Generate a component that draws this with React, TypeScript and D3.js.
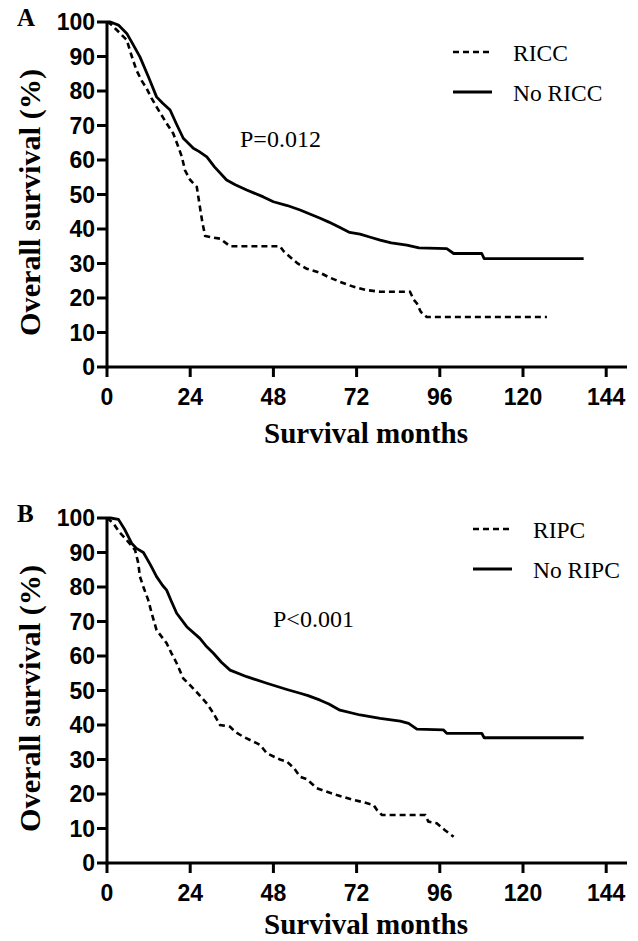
import React, { useEffect, useRef } from 'react';
import * as d3 from 'd3';

// months / overall survival (%)
const MONTH_TICKS = [0, 24, 48, 72, 96, 120, 144];
const SURV_TICKS = [0, 10, 20, 30, 40, 50, 60, 70, 80, 90, 100];

const riccA: [number, number][] = [
  [0, 100], [1, 99.5], [2.3, 98.2], [4, 96.5], [5.7, 94.8], [7, 90.5], [8.5, 86], [10, 83],
  [11.4, 80.8], [12.8, 78], [14.3, 75.4], [17.2, 70.6], [19.1, 67.7], [20.5, 64], [21.6, 60.9],
  [22.5, 57], [24, 54.2], [25.9, 52.2], [26.8, 46.4], [27.5, 42], [28.3, 38], [30.7, 37.5],
  [32.6, 37.2], [35.5, 35], [49.9, 35], [51, 33.5], [52.8, 31.9], [55, 30], [57.6, 28.5],
  [61.5, 27.3], [64, 26], [67.2, 24.7], [71, 23.3], [74.9, 22.3], [78.8, 21.8], [87.4, 21.8],
  [88.5, 19.5], [89.4, 18.4], [90.5, 16], [92.2, 14.5], [126.9, 14.5],
];

const noRiccA: [number, number][] = [
  [0, 100], [1, 100], [3.3, 99.1], [5.7, 96.7], [7.5, 93.5], [9.5, 89.9], [12, 84], [14.3, 78.3],
  [16, 76.5], [18.2, 74.5], [20, 70.5], [22, 66.3], [24.9, 63.4], [26.5, 62.5], [28.8, 60.9],
  [31, 58], [34.5, 54.2], [37, 52.8], [40.3, 51.3], [45.1, 49.3], [48, 47.9], [52, 46.8],
  [55.7, 45.5], [61.5, 43.1], [64, 42], [67.2, 40.4], [70, 39], [73, 38.5], [76, 37.6],
  [78.8, 36.8], [82, 36], [86.5, 35.3], [90, 34.5], [98, 34.3], [100, 32.9], [108.1, 32.9],
  [108.8, 31.4], [137.5, 31.4],
];

const ripcB: [number, number][] = [
  [0, 100], [1.8, 98.5], [3.5, 96], [5.7, 93.6], [8.1, 90.7], [9, 87], [9.5, 83], [10.5, 80],
  [11.9, 76.2], [13, 72], [14.3, 67.5], [17.2, 63.7], [18.5, 61], [20.1, 57.9], [22, 53.5],
  [24.5, 51], [26.8, 48.5], [29, 46], [30.7, 43.4], [32.6, 40], [35.5, 39.5], [37, 38],
  [39.3, 36.6], [42, 35.3], [44.2, 34.2], [46.1, 31.8], [49.9, 30], [51.9, 29.4], [54, 27.4],
  [55.7, 25], [57.6, 24.3], [60.5, 21.7], [63, 20.8], [66.3, 19.7], [71.1, 18.3], [74, 17.6],
  [76.9, 16.8], [78, 15.2], [79.3, 13.9], [91.8, 13.9], [92.7, 12], [95.1, 11.5], [97.5, 9.5],
  [100, 7.6],
];

const noRipcB: [number, number][] = [
  [0, 100], [1, 100], [3.3, 99.6], [5.2, 96.5], [7.1, 92.7], [8.5, 91.2], [10.5, 90], [12.5, 86.5],
  [14.3, 83], [16, 80.5], [17.2, 79.1], [18.5, 76], [20.1, 72.4], [23, 68.5], [26.8, 65.1],
  [28.5, 63], [30.7, 60.8], [33, 58.2], [35.5, 55.9], [40.3, 54], [46.1, 52.1], [51.9, 50.3],
  [55.7, 49.2], [58, 48.5], [61.5, 47.2], [64, 46.1], [67.2, 44.3], [73, 42.9], [78.8, 41.9],
  [84.6, 41.1], [87, 40.5], [89.4, 38.8], [97, 38.6], [98, 37.6], [108.1, 37.6], [108.8, 36.3],
  [137.5, 36.3],
];

const panels = [
  {
    label: 'A', top: 22, bottom: 367, pText: 'P=0.012', pX: 240, pY: 147,
    dashed: riccA, solid: noRiccA, dashedName: 'RICC', solidName: 'No RICC',
    legX: 453, legY: 52, titleY: 443,
  },
  {
    label: 'B', top: 518, bottom: 863, pText: 'P<0.001', pX: 273, pY: 627,
    dashed: ripcB, solid: noRipcB, dashedName: 'RIPC', solidName: 'No RIPC',
    legX: 473, legY: 529, titleY: 934,
  },
];

const W = 638;
const H = 941;
const SANS = '"Liberation Sans", Arial, sans-serif';
const SERIF = '"Liberation Serif", "Times New Roman", serif';

export default function App() {
  const ref = useRef<SVGSVGElement>(null);

  useEffect(() => {
    const svg = d3.select(ref.current);
    svg.selectAll('*').remove();

    const x = d3.scaleLinear().domain([0, 150]).range([107, 627]);

    panels.forEach(p => {
      const y = d3.scaleLinear().domain([0, 100]).range([p.bottom, p.top]);
      const g = svg.append('g');

      // axes
      g.append('line')
        .attr('x1', x(0)).attr('x2', x(150))
        .attr('y1', y(0)).attr('y2', y(0))
        .attr('stroke', '#000').attr('stroke-width', 3);
      g.append('line')
        .attr('x1', x(0)).attr('x2', x(0))
        .attr('y1', y(0) + 1.5).attr('y2', y(100) - 1)
        .attr('stroke', '#000').attr('stroke-width', 3);

      g.selectAll('.ytick')
        .data(SURV_TICKS)
        .enter()
        .append('line')
        .attr('x1', x(0) - 10).attr('x2', x(0))
        .attr('y1', d => y(d)).attr('y2', d => y(d))
        .attr('stroke', '#000').attr('stroke-width', 3);

      g.selectAll('.ylab')
        .data(SURV_TICKS)
        .enter()
        .append('text')
        .attr('x', x(0) - 12)
        .attr('y', d => y(d))
        .attr('dy', '0.36em')
        .attr('text-anchor', 'end')
        .style('font-family', SANS)
        .style('font-weight', 'bold')
        .style('font-size', '23px')
        .text(d => d);

      g.selectAll('.xtick')
        .data(MONTH_TICKS)
        .enter()
        .append('line')
        .attr('x1', d => x(d)).attr('x2', d => x(d))
        .attr('y1', y(0)).attr('y2', y(0) + 10)
        .attr('stroke', '#000').attr('stroke-width', 3);

      g.selectAll('.xlab')
        .data(MONTH_TICKS)
        .enter()
        .append('text')
        .attr('x', d => x(d))
        .attr('y', y(0) + 38)
        .attr('text-anchor', 'middle')
        .style('font-family', SANS)
        .style('font-weight', 'bold')
        .style('font-size', '23px')
        .text(d => d);

      // axis titles
      g.append('text')
        .attr('x', 366)
        .attr('y', p.titleY)
        .attr('text-anchor', 'middle')
        .attr('textLength', 204)
        .attr('lengthAdjust', 'spacingAndGlyphs')
        .style('font-family', SERIF)
        .style('font-weight', 'bold')
        .style('font-size', '29px')
        .text('Survival months');

      const midY = (p.top + p.bottom) / 2 + 8;
      g.append('text')
        .attr('transform', `translate(40,${midY}) rotate(-90)`)
        .attr('text-anchor', 'middle')
        .attr('textLength', 267)
        .attr('lengthAdjust', 'spacingAndGlyphs')
        .style('font-family', SERIF)
        .style('font-weight', 'bold')
        .style('font-size', '30px')
        .text('Overall survival (%)');

      g.append('text')
        .attr('x', 17)
        .attr('y', p.top + 4)
        .style('font-family', SERIF)
        .style('font-weight', 'bold')
        .style('font-size', '25px')
        .text(p.label);

      // curves
      const line = d3.line<[number, number]>()
        .x(d => x(d[0]))
        .y(d => y(d[1]));

      g.append('path')
        .attr('d', line(p.solid))
        .attr('fill', 'none')
        .attr('stroke', '#000')
        .attr('stroke-width', 2.8)
        .attr('stroke-linejoin', 'round');

      g.append('path')
        .attr('d', line(p.dashed))
        .attr('fill', 'none')
        .attr('stroke', '#000')
        .attr('stroke-width', 2.6)
        .attr('stroke-dasharray', '6,4');

      // p value
      g.append('text')
        .attr('x', p.pX)
        .attr('y', p.pY)
        .style('font-family', SERIF)
        .style('font-size', '24px')
        .text(p.pText);

      // legend
      g.append('line')
        .attr('x1', p.legX).attr('x2', p.legX + 38)
        .attr('y1', p.legY).attr('y2', p.legY)
        .attr('stroke', '#000').attr('stroke-width', 2.6)
        .attr('stroke-dasharray', '6,4');
      g.append('text')
        .attr('x', p.legX + 60)
        .attr('y', p.legY + 9)
        .style('font-family', SERIF)
        .style('font-size', '23.5px')
        .text(p.dashedName);

      g.append('line')
        .attr('x1', p.legX).attr('x2', p.legX + 39)
        .attr('y1', p.legY + 40).attr('y2', p.legY + 40)
        .attr('stroke', '#000').attr('stroke-width', 3);
      g.append('text')
        .attr('x', p.legX + 60)
        .attr('y', p.legY + 49)
        .style('font-family', SERIF)
        .style('font-size', '23.5px')
        .text(p.solidName);
    });
  }, []);

  return (
    <svg
      ref={ref}
      width={W}
      height={H}
      style={{ position: 'absolute', left: 0, top: 0, background: '#fff' }}
    />
  );
}
